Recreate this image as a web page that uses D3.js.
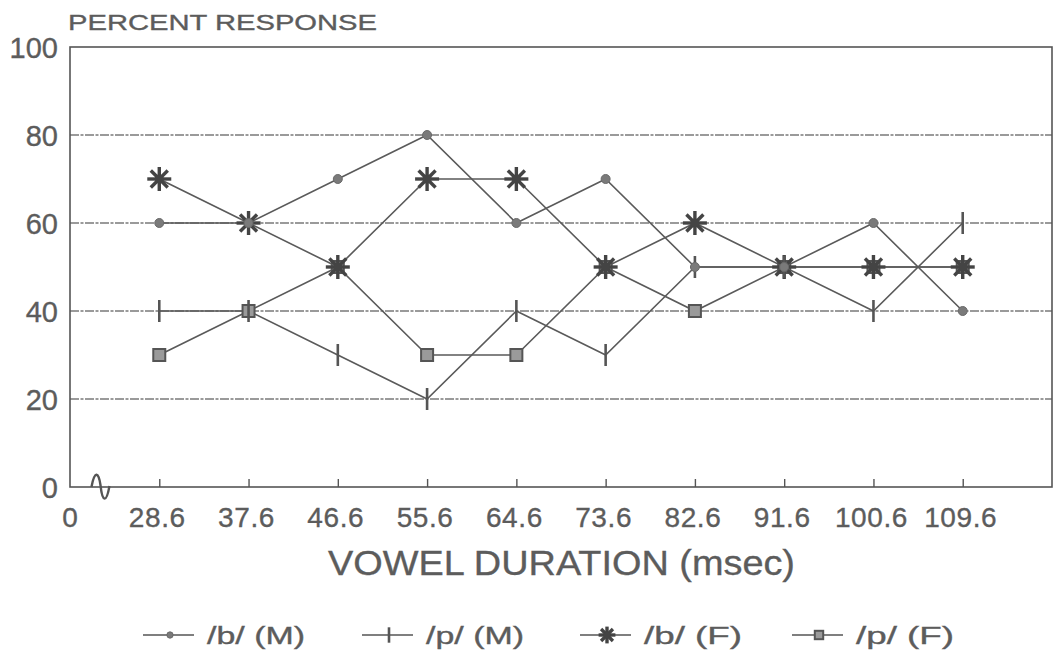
<!DOCTYPE html>
<html>
<head>
<meta charset="utf-8">
<script src="https://cdn.jsdelivr.net/npm/d3@7"></script>
<style>
  html, body { margin: 0; padding: 0; background: #fff; }
  svg { display: block; }
  text { font-family: "Liberation Sans", Arial, Helvetica, sans-serif; fill: #5c5c5c; stroke: #5c5c5c; stroke-width: 0.35px; }
</style>
</head>
<body>
<svg id="chart" width="1059" height="662"></svg>
<script>
// Vowel duration steps (msec) and percent response per listener group
const categories = ["28.6", "37.6", "46.6", "55.6", "64.6", "73.6", "82.6", "91.6", "100.6", "109.6"];
const bMale   = [60, 60, 70, 80, 60, 70, 50, 50, 60, 40];
const pMale   = [40, 40, 30, 20, 40, 30, 50, 50, 40, 60];
const bFemale = [70, 60, 50, 70, 70, 50, 60, 50, 50, 50];
const pFemale = [30, 40, 50, 30, 30, 50, 40, 50, 50, 50];
const yTicks = [0, 20, 40, 60, 80, 100];
const seriesNames = ["/b/  (M)", "/p/  (M)", "/b/  (F)", "/p/  (F)"];

const ink = "#555";
const svg = d3.select("#chart");

const plotLeft = 70, plotRight = 1052, plotTop = 47, plotBottom = 487;

// position 0 is the origin, categories sit at 1..10, one empty slot after
const x = d3.scaleLinear().domain([0, 11]).range([plotLeft, plotRight]);
const y = d3.scaleLinear().domain([0, 100]).range([plotBottom, plotTop]);
const xi = i => x(i + 1);

// horizontal grid lines
svg.append("g").selectAll("line")
  .data(yTicks.filter(v => v > 0 && v < 100))
  .join("line")
  .attr("x1", plotLeft).attr("x2", plotRight)
  .attr("y1", d => y(d)).attr("y2", d => y(d))
  .attr("stroke", "#7a7a7a").attr("stroke-width", 1.3)
  .attr("stroke-dasharray", "9,1.5,3,1.5");

// frame
svg.append("rect")
  .attr("x", plotLeft).attr("y", plotTop)
  .attr("width", plotRight - plotLeft).attr("height", plotBottom - plotTop)
  .attr("fill", "none").attr("stroke", ink).attr("stroke-width", 1.6);

// x axis with inward ticks
const xAxis = d3.axisBottom(x)
  .tickValues(d3.range(1, 11))
  .tickSize(-8)
  .tickFormat("");
const gx = svg.append("g").attr("transform", `translate(0,${plotBottom})`).call(xAxis);
gx.select(".domain").remove();
gx.selectAll(".tick line").attr("stroke", ink).attr("stroke-width", 1.4);

// x tick labels
svg.append("g").selectAll("text")
  .data(categories)
  .join("text")
  .attr("x", (d, i) => xi(i) - 2)
  .attr("y", plotBottom + 40)
  .attr("text-anchor", "middle")
  .attr("font-size", 28)
  .attr("letter-spacing", 0.6)
  .text(d => d);
svg.append("text")
  .attr("x", plotLeft).attr("y", plotBottom + 40)
  .attr("text-anchor", "middle").attr("font-size", 28).text("0");

// y tick labels
svg.append("g").selectAll("text")
  .data(yTicks)
  .join("text")
  .attr("x", plotLeft - 12)
  .attr("y", d => y(d) + 10.5)
  .attr("text-anchor", "end")
  .attr("font-size", 29)
  .text(d => d);

// axis-break squiggle near the origin
const bx = x(0.33);
svg.append("path")
  .attr("d", `M${bx - 8},${plotBottom} C${bx - 5},${plotBottom - 16} ${bx - 1},${plotBottom - 16} ${bx + 1},${plotBottom - 2}`
    + ` C${bx + 3},${plotBottom + 16} ${bx + 7},${plotBottom + 16} ${bx + 10},${plotBottom - 1}`)
  .attr("fill", "none").attr("stroke", ink).attr("stroke-width", 2.4);

// titles
svg.append("text").attr("x", 68).attr("y", 30).attr("font-size", 22)
  .attr("textLength", 309).attr("lengthAdjust", "spacingAndGlyphs")
  .text("PERCENT RESPONSE");
svg.append("text").attr("x", 328).attr("y", 575)
  .attr("font-size", 35)
  .attr("textLength", 467).attr("lengthAdjust", "spacingAndGlyphs")
  .text("VOWEL DURATION (msec)");

// marker drawers
function dot(g, cx, cy, s = 1) {
  g.append("circle").attr("cx", cx).attr("cy", cy).attr("r", 4.5 * s)
    .attr("fill", "#7a7a7a").attr("stroke", "#6a6a6a").attr("stroke-width", 1);
}
function vtick(g, cx, cy, s = 1) {
  g.append("line").attr("x1", cx).attr("x2", cx)
    .attr("y1", cy - 11 * s).attr("y2", cy + 11 * s)
    .attr("stroke", ink).attr("stroke-width", 2.6);
}
function star(g, cx, cy, s = 1) {
  const r = 12 * s;
  for (let k = 0; k < 4; k++) {
    const a = k * Math.PI / 4;
    g.append("line")
      .attr("x1", cx - r * Math.cos(a)).attr("y1", cy - r * Math.sin(a))
      .attr("x2", cx + r * Math.cos(a)).attr("y2", cy + r * Math.sin(a))
      .attr("stroke", "#444").attr("stroke-width", 3.4);
  }
  g.append("circle").attr("cx", cx).attr("cy", cy).attr("r", 4.5 * s).attr("fill", "#444");
}
function square(g, cx, cy, s = 1) {
  g.append("rect").attr("x", cx - 6 * s).attr("y", cy - 6 * s)
    .attr("width", 12 * s).attr("height", 12 * s)
    .attr("fill", "#9a9a9a").attr("stroke", "#555").attr("stroke-width", 2);
}

const series = [
  { name: seriesNames[0], values: bMale, mark: dot },
  { name: seriesNames[1], values: pMale, mark: vtick },
  { name: seriesNames[2], values: bFemale, mark: star },
  { name: seriesNames[3], values: pFemale, mark: square }
];

const line = d3.line().x((d, i) => xi(i)).y(d => y(d));

const plot = svg.append("g");
series.forEach(s => {
  plot.append("path").datum(s.values)
    .attr("d", line).attr("fill", "none")
    .attr("stroke", "#5a5a5a").attr("stroke-width", 1.6);
});
// markers drawn in reverse so /b/ markers sit on top
series.slice().reverse().forEach(s => {
  const g = plot.append("g");
  s.values.forEach((v, i) => s.mark(g, xi(i), y(v)));
});

// legend
const legendX = [143, 362, 580, 792];
const ly = 635;
series.forEach((s, k) => {
  const g = svg.append("g");
  const lx = legendX[k];
  g.append("line").attr("x1", lx).attr("x2", lx + 51).attr("y1", ly).attr("y2", ly)
    .attr("stroke", ink).attr("stroke-width", 1.5);
  s.mark(g, lx + 27, ly, 0.7);
  g.append("text").attr("x", lx + 64).attr("y", ly + 9).attr("font-size", 23)
    .attr("textLength", 98).attr("lengthAdjust", "spacingAndGlyphs")
    .text(s.name);
});
</script>
</body>
</html>
